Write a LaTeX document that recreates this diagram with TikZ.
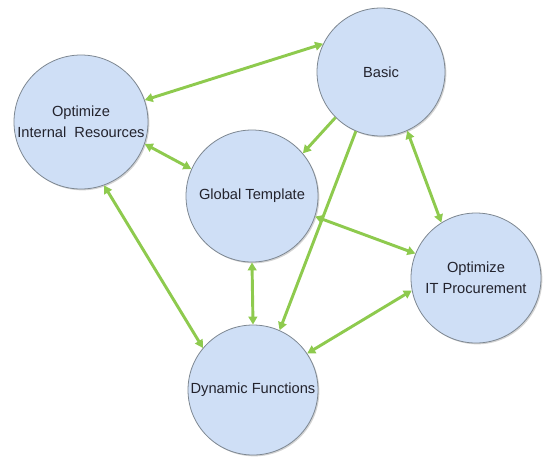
\documentclass[tikz,border=0pt]{standalone}
\usepackage{fontspec}
\setmainfont{Liberation Sans}
\usetikzlibrary{arrows.meta,shadows}
\definecolor{cfill}{RGB}{207,223,246}
\definecolor{cline}{RGB}{125,135,145}
\definecolor{agreen}{RGB}{142,202,78}
\definecolor{tcol}{RGB}{35,35,45}
\begin{document}
\begin{tikzpicture}[x=0.75pt,y=-0.75pt,
  bub/.style={circle, fill=cfill, draw=cline, line width=0.6pt, inner sep=0pt,
    align=center, font=\fontsize{11}{15.5}\selectfont, text=tcol,
    drop shadow={shadow xshift=1pt, shadow yshift=-1pt, opacity=0.35, fill=gray}},
  tip/.style={Triangle[length=6pt,width=6.5pt]},
  dbl/.style={draw=agreen, line width=2.2pt, {Triangle[length=6pt,width=6.5pt]}-{Triangle[length=6pt,width=6.5pt]}},
  sgl/.style={draw=agreen, line width=2.2pt, -{Triangle[length=6pt,width=6.5pt]}}]
\useasboundingbox (0,0) rectangle (545,461);
\node[bub, minimum size=100.5pt] (int) at (81,122) {Optimize\\Internal\ \ Resources};
\node[bub, minimum size=96pt] (basic) at (381,72) {Basic};
\node[bub, minimum size=99pt] (glob) at (252,196) {Global Template};
\node[bub, minimum size=97.5pt] (it) at (476,278) {Optimize\\IT Procurement};
\node[bub, minimum size=97.5pt] (dyn) at (253,390) {Dynamic Functions};
\draw[dbl] (int.19) -- (basic.154);
\draw[dbl] (int.341) -- (glob.156);
\draw[dbl] (int.290) -- (dyn.140);
\draw[sgl] (basic.225) -- (glob.40);
\draw[sgl] (basic.247) -- (dyn.66);
\draw[dbl] (basic.294) -- (it.122);
\draw[dbl] (glob.342) -- (it.158);
\draw[dbl] (glob.270) -- (dyn.90);
\draw[dbl] (it.191) -- (dyn.34);
\end{tikzpicture}
\end{document}
